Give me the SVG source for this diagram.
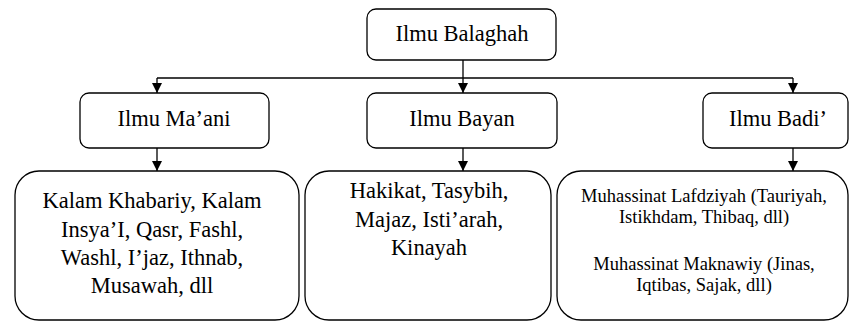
<svg xmlns="http://www.w3.org/2000/svg" width="850" height="323" viewBox="0 0 850 323">
<style>
.box{fill:#fff;stroke:#000;stroke-width:1.3}
.t{font-family:'Liberation Serif','Times New Roman',Times,'DejaVu Serif',serif;font-size:22.5px;fill:#000;text-anchor:middle}
.s{font-family:'Liberation Serif','Times New Roman',Times,'DejaVu Serif',serif;font-size:18.5px;fill:#000;text-anchor:middle}
.c{fill:none;stroke:#000;stroke-width:1.3}
</style>
<defs>
<marker id="ah" viewBox="0 0 10 10" refX="10" refY="5" markerWidth="10" markerHeight="11" markerUnits="userSpaceOnUse" orient="auto">
<path d="M0,0 L10,5 L0,10 Z" fill="#000"/>
</marker>
</defs>
<g id="connectors">
<line class="c" x1="463" y1="60" x2="463" y2="78"/>
<line class="c" x1="157" y1="78" x2="793" y2="78"/>
<line class="c" x1="157" y1="78" x2="157" y2="93" marker-end="url(#ah)"/>
<line class="c" x1="463" y1="78" x2="463" y2="93" marker-end="url(#ah)"/>
<line class="c" x1="793" y1="78" x2="793" y2="93" marker-end="url(#ah)"/>
<line class="c" x1="157" y1="148" x2="157" y2="171" marker-end="url(#ah)"/>
<line class="c" x1="463" y1="148" x2="463" y2="171" marker-end="url(#ah)"/>
<line class="c" x1="793" y1="148" x2="793" y2="171" marker-end="url(#ah)"/>
</g>
<g id="balaghah">
<rect class="box" x="367" y="9" width="189" height="51" rx="9"/>
<text class="t" x="462" y="41">Ilmu Balaghah</text>
</g>
<g id="maani">
<rect class="box" x="80" y="93" width="189" height="55" rx="9"/>
<text class="t" x="174" y="126">Ilmu Ma’ani</text>
</g>
<g id="bayan">
<rect class="box" x="367" y="93" width="190" height="55" rx="9"/>
<text class="t" x="462" y="126">Ilmu Bayan</text>
</g>
<g id="badi">
<rect class="box" x="703" y="93" width="145" height="55" rx="9"/>
<text class="t" x="778" y="126">Ilmu Badi’</text>
</g>
<g id="maani-list">
<rect class="box" x="15" y="171" width="284" height="149" rx="24"/>
<text class="t" x="152" y="208">Kalam Khabariy, Kalam</text>
<text class="t" x="152" y="237">Insya’I, Qasr, Fashl,</text>
<text class="t" x="152" y="265">Washl, I’jaz, Ithnab,</text>
<text class="t" x="152" y="293">Musawah, dll</text>
</g>
<g id="bayan-list">
<rect class="box" x="305" y="171" width="246" height="149" rx="24"/>
<text class="t" x="429" y="198">Hakikat, Tasybih,</text>
<text class="t" x="429" y="227">Majaz, Isti’arah,</text>
<text class="t" x="429" y="255">Kinayah</text>
</g>
<g id="badi-list">
<rect class="box" x="557" y="171" width="291" height="149" rx="24"/>
<text class="s" x="704" y="202">Muhassinat Lafdziyah (Tauriyah,</text>
<text class="s" x="704" y="223">Istikhdam, Thibaq, dll)</text>
<text class="s" x="704" y="270">Muhassinat Maknawiy (Jinas,</text>
<text class="s" x="704" y="291">Iqtibas, Sajak, dll)</text>
</g>
</svg>
